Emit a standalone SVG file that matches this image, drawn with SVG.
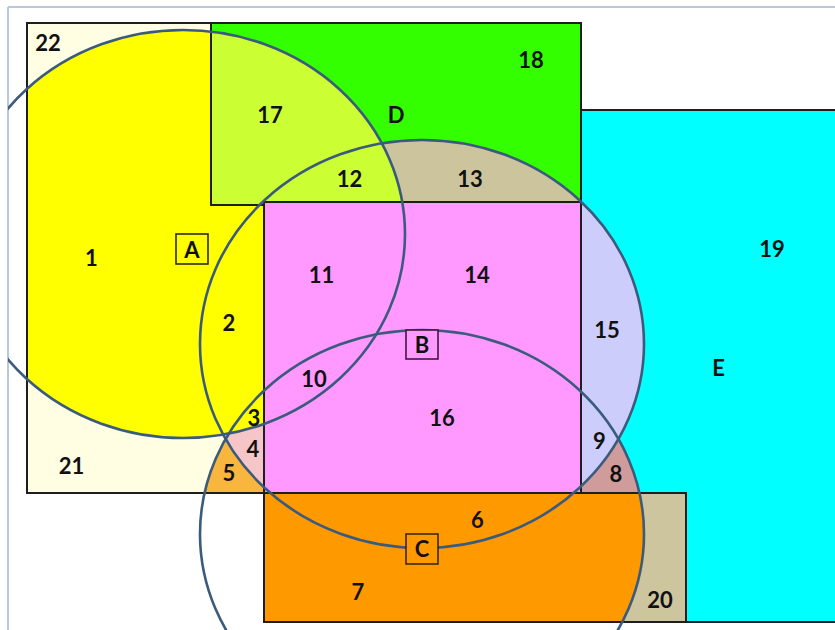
<svg xmlns="http://www.w3.org/2000/svg" width="835" height="630" viewBox="0 0 835 630">
<style>
.rs{fill:none;stroke:#1e1e1e;stroke-width:2;}
.circ{fill:none;stroke:#3b5b7d;stroke-width:2.6;}
.lbl{font-family:Lato,"Open Sans","Liberation Sans",sans-serif;font-weight:700;font-size:22px;fill:#111111;text-anchor:middle;}
.box{stroke-width:1.6;}
</style>
<defs>
<clipPath id="cA"><ellipse cx="183" cy="234" rx="222" ry="204"/></clipPath>
<clipPath id="cB"><ellipse cx="422" cy="344" rx="222" ry="204"/></clipPath>
<clipPath id="cC"><ellipse cx="422" cy="534" rx="222" ry="204"/></clipPath>
<clipPath id="frameClip"><rect x="8" y="7" width="840" height="640"/></clipPath>
</defs>
<rect x="0" y="0" width="835" height="630" fill="#ffffff"/>
<path d="M8,7 H835 M8,7 V630" fill="none" stroke="#b7c8da" stroke-width="2"/>

<g id="rect-left">
<rect x="27" y="23" width="237" height="470" fill="#fffde2"/>
<g clip-path="url(#cC)">
<rect x="27" y="23" width="237" height="470" fill="#f8b63f"/>
<rect x="27" y="23" width="237" height="470" fill="#f5c5c7" clip-path="url(#cB)"/>
</g>
<rect x="27" y="23" width="237" height="470" fill="#ffff00" clip-path="url(#cA)"/>
<rect class="rs" x="27" y="23" width="237" height="470"/>
</g>

<g id="rect-D">
<rect x="211" y="23" width="370" height="182" fill="#33ff00"/>
<rect x="211" y="23" width="370" height="182" fill="#cbc49d" clip-path="url(#cB)"/>
<rect x="211" y="23" width="370" height="182" fill="#ccff33" clip-path="url(#cA)"/>
<rect class="rs" x="211" y="23" width="370" height="182"/>
</g>

<g id="rect-B">
<rect x="264" y="202" width="317" height="291" fill="#ff99ff"/>
<rect class="rs" x="264" y="202" width="317" height="291"/>
</g>

<g id="rect-E">
<rect x="581" y="110" width="270" height="512" fill="#00ffff"/>
<rect x="581" y="110" width="270" height="383" fill="#d09b9b" clip-path="url(#cC)"/>
<rect x="581" y="110" width="270" height="383" fill="#cdcdfc" clip-path="url(#cB)"/>
<rect class="rs" x="581" y="110" width="270" height="512"/>
</g>

<g id="rect-C">
<rect x="264" y="493" width="422" height="129" fill="#cdc59e"/>
<rect x="264" y="493" width="422" height="129" fill="#ff9900" clip-path="url(#cC)"/>
<rect class="rs" x="264" y="493" width="422" height="129"/>
</g>

<g id="circles" clip-path="url(#frameClip)">
<ellipse id="circle-A" class="circ" cx="183" cy="234" rx="222" ry="204"/>
<ellipse id="circle-B" class="circ" cx="422" cy="344" rx="222" ry="204"/>
<ellipse id="circle-C" class="circ" cx="422" cy="534" rx="222" ry="204"/>
</g>

<g id="label-A">
<rect class="box" x="176" y="234" width="32" height="30" fill="#ffff00" stroke="#2e2e10"/>
<text class="lbl" x="192" y="257.8">A</text>
</g>
<g id="label-B">
<rect class="box" x="406" y="330" width="32" height="29" fill="#ff99ff" stroke="#40183f"/>
<text class="lbl" x="422" y="352.8">B</text>
</g>
<g id="label-C">
<rect class="box" x="406" y="534" width="32" height="30" fill="#ff9900" stroke="#3f2800"/>
<text class="lbl" x="422" y="556.8">C</text>
</g>

<g id="region-labels" class="lbl">
<text x="48" y="50.8">22</text>
<text x="531" y="68.3">18</text>
<text x="270" y="123.3">17</text>
<text x="396" y="123.3">D</text>
<text x="349.5" y="187.3">12</text>
<text x="470" y="187.3">13</text>
<text x="772" y="256.8">19</text>
<text x="91.5" y="266.3">1</text>
<text x="321.5" y="282.8">11</text>
<text x="477" y="283.3">14</text>
<text x="229" y="330.8">2</text>
<text x="607" y="338.3">15</text>
<text x="718.5" y="375.8">E</text>
<text x="314" y="386.8">10</text>
<text x="254" y="425.8">3</text>
<text x="442" y="425.8">16</text>
<text x="253" y="457.3">4</text>
<text x="599.5" y="448.8">9</text>
<text x="71.5" y="473.8">21</text>
<text x="229" y="481.3">5</text>
<text x="616" y="481.8">8</text>
<text x="477.5" y="528.3">6</text>
<text x="358" y="599.8">7</text>
<text x="660" y="607.8">20</text>
</g>
</svg>
